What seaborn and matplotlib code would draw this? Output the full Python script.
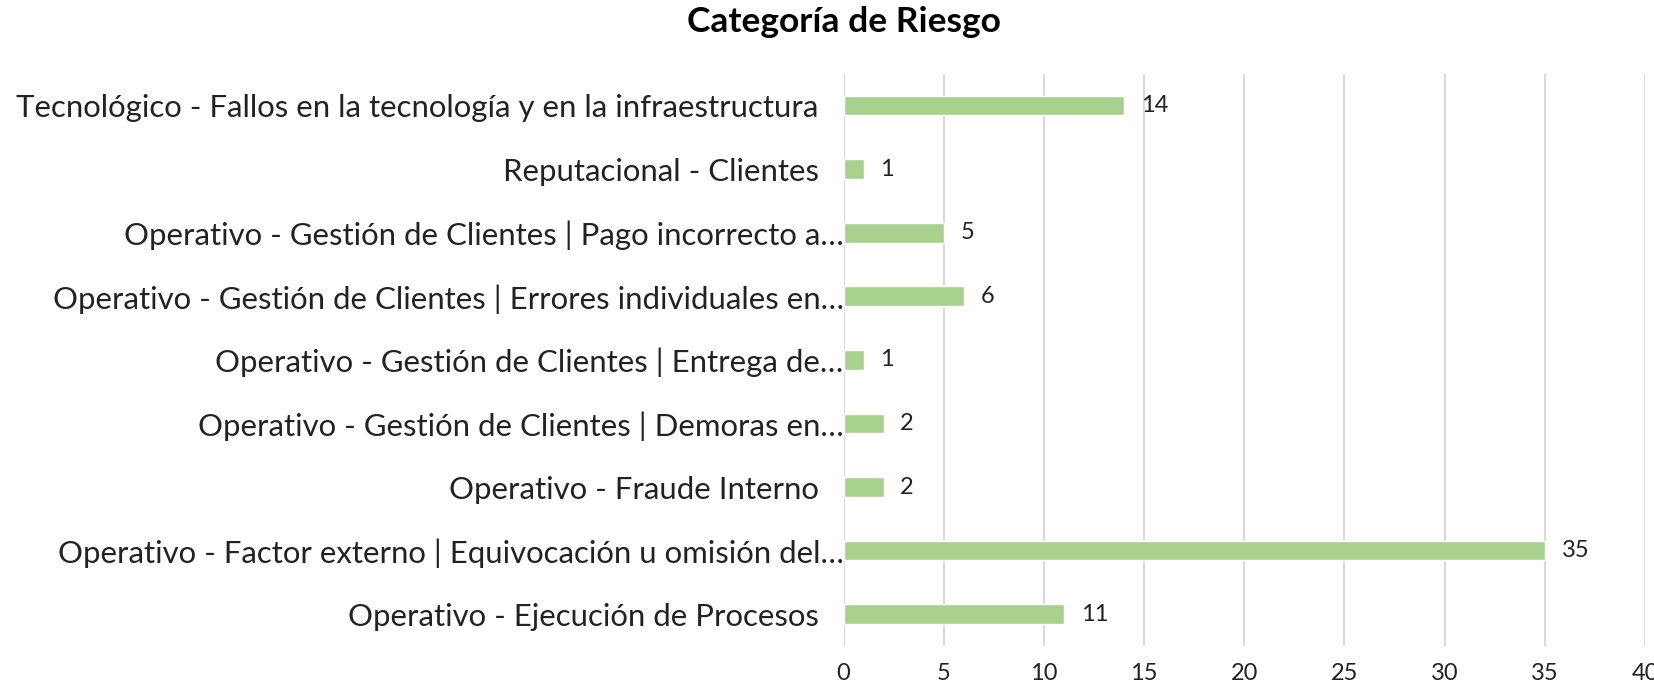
import matplotlib
matplotlib.use("Agg")
import matplotlib.pyplot as plt
import matplotlib.transforms as mtransforms
import seaborn as sns
import pandas as pd

categorias = [
    "Tecnológico - Fallos en la tecnología y en la infraestructura",
    "Reputacional - Clientes",
    "Operativo - Gestión de Clientes | Pago incorrecto a…",
    "Operativo - Gestión de Clientes | Errores individuales en…",
    "Operativo - Gestión de Clientes | Entrega de…",
    "Operativo - Gestión de Clientes | Demoras en…",
    "Operativo - Fraude Interno",
    "Operativo - Factor externo | Equivocación u omisión del…",
    "Operativo - Ejecución de Procesos",
]
valores = [14, 1, 5, 6, 1, 2, 2, 35, 11]
ticks_x = [0, 5, 10, 15, 20, 25, 30, 35, 40]

df = pd.DataFrame({"categoria": categorias, "valor": valores})

sns.set_theme(style="white")
plt.rcParams["font.family"] = ["Lato", "DejaVu Sans"]

fig = plt.figure(figsize=(16.54, 6.89), dpi=100)
ax = fig.add_axes([0.510, 0.0624, 0.4846, 0.8306])

sns.barplot(data=df, x="valor", y="categoria", color="#A9D18E",
            width=0.31, saturation=1, ax=ax, zorder=3)

ax.set_xlim(0, 40)
ax.set_xticks(ticks_x)
ax.set_xticklabels([str(t) for t in ticks_x])
ax.grid(axis="x", color="#D9D9D9", linewidth=1.5, zorder=0)
ax.grid(axis="y", visible=False)
for s in ax.spines.values():
    s.set_visible(False)
ax.set_xlabel("")
ax.set_ylabel("")

ypad = 18
ax.tick_params(axis="x", length=0, pad=12, labelsize=17, labelcolor="#222222")
ax.tick_params(axis="y", length=0, pad=ypad, labelsize=22.4, labelcolor="#222222")

# truncated labels run right up to the axis
shift = mtransforms.ScaledTranslation(ypad / 72, 0, fig.dpi_scale_trans)
for lab in ax.get_yticklabels():
    if lab.get_text().endswith("…"):
        lab.set_transform(lab.get_transform() + shift)

for cont in ax.containers:
    ax.bar_label(cont, labels=[str(v) for v in valores], padding=12,
                 fontsize=17, color="#222222")

fig.text(0.510, 0.968, "Categoría de Riesgo", ha="center", va="center",
         fontsize=25.5, fontweight="bold", color="#000000")

fig.savefig("out.png", dpi=100, facecolor="white")
